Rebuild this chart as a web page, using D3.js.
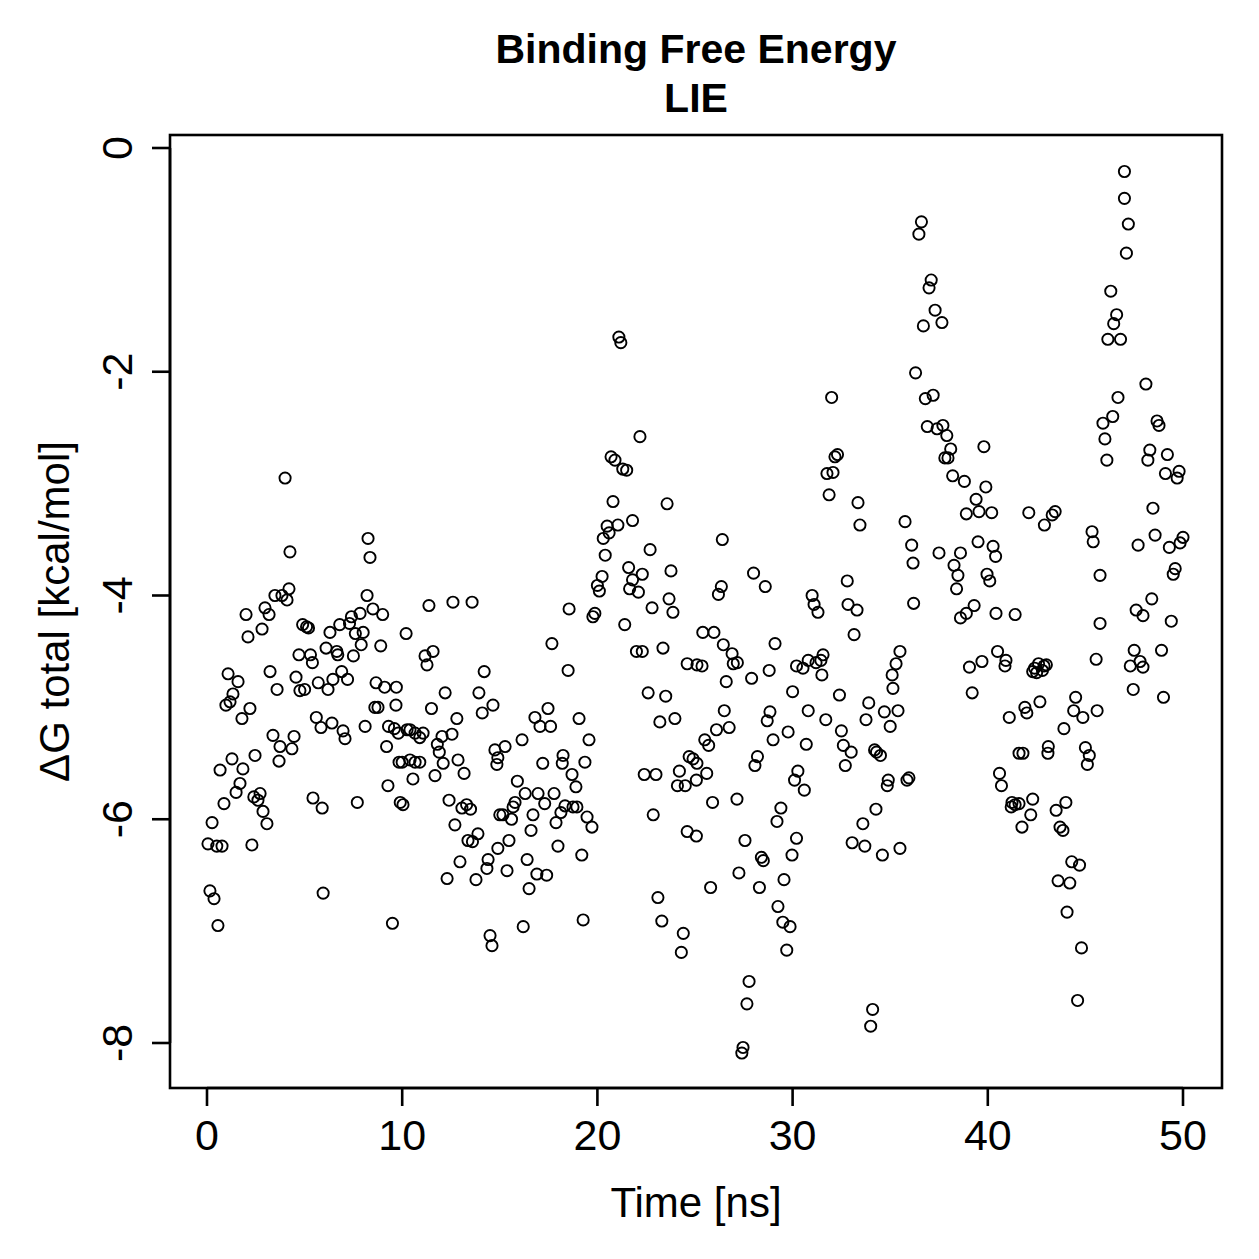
<!DOCTYPE html>
<html><head><meta charset="utf-8">
<script src="https://cdn.jsdelivr.net/npm/d3@7"></script>
<style>body{margin:0;background:#fff} svg{display:block} text{font-family:"Liberation Sans",Arial,Helvetica,sans-serif;fill:#000}</style>
</head><body>
<script>
const titleLines = ["Binding Free Energy", "LIE"];
const xLabel = "Time [ns]";
const yLabel = "ΔG total [kcal/mol]";
const xTicks = [0, 10, 20, 30, 40, 50];
const yTicks = [0, -2, -4, -6, -8];

const timeNs = [
  // 0-5 ns
  0.05,0.15,0.36,0.26,0.5,0.77,0.56,0.67,0.87,0.97,1.08,1.18,1.33,1.28,1.49,1.59,1.69,1.79,1.84,2.0,2.1,2.2,2.3,2.4,2.46,2.61,2.72,2.82,2.87,2.97,3.07,3.18,3.23,3.38,3.48,3.59,3.69,3.74,3.84,4.0,4.1,4.2,4.25,4.35,4.46,4.56,4.71,4.76,
  // 5-10 ns
  4.9,5.1,5.2,5.3,5.4,5.0,5.7,6.2,6.45,6.9,7.2,6.1,6.65,6.7,6.3,6.8,7.3,7.4,7.6,7.84,8.0,7.5,7.9,8.2,8.25,8.35,8.5,8.9,9.0,8.66,9.1,9.7,8.6,8.76,9.68,5.6,5.84,6.4,6.97,7.07,8.1,9.3,9.6,9.8,9.2,9.84,9.27,5.43,5.9,7.7,9.9,5.95,9.5,
  // 10-15 ns
  11.37,12.6,13.58,10.2,11.17,11.58,11.27,14.2,12.2,13.93,14.65,14.1,11.5,12.8,10.25,10.4,10.66,10.9,11.07,12.55,12.04,11.8,11.9,14.75,14.9,14.85,10.0,10.4,10.66,10.9,12.1,12.86,13.17,11.68,10.55,10.04,12.4,13.06,13.3,13.5,12.7,15.0,13.37,13.6,13.88,14.9,12.96,14.4,14.34,12.3,13.78,14.5,14.6,
  // 15-20 ns
  18.55,19.77,19.87,17.67,18.5,17.47,16.8,17.06,17.6,19.06,19.57,16.14,15.27,17.2,18.24,18.2,19.36,18.7,15.9,18.9,16.3,16.96,17.78,15.78,15.68,15.16,15.6,17.3,16.7,18.34,18.75,18.95,18.13,17.88,19.47,19.72,16.6,15.47,17.98,16.4,19.2,15.37,16.9,17.4,16.5,16.2,19.27,
  // 20-25 ns
  21.1,21.2,22.18,20.7,20.9,21.3,21.5,20.8,23.57,21.8,21.05,20.5,20.6,20.3,20.4,22.7,20.24,20.0,20.1,21.6,22.3,21.8,21.65,22.1,23.77,23.67,23.87,22.8,21.4,22.0,22.3,23.36,24.6,25.1,22.6,23.5,23.2,23.97,24.7,24.9,25.1,22.4,23.0,24.2,24.1,24.5,25.07,22.86,24.6,25.07,23.1,23.3,24.4,24.3,
  // 25-30 ns
  26.4,28.0,28.6,26.35,26.2,25.4,25.97,26.45,26.9,29.1,26.96,27.17,25.36,28.8,27.9,26.6,30.2,30.0,26.5,28.84,28.7,26.75,26.1,25.5,25.7,29.77,29.0,28.2,28.07,25.6,30.27,30.1,25.9,27.15,29.4,29.2,30.2,27.56,28.4,28.5,29.97,27.25,29.56,25.8,28.3,29.25,29.5,29.87,29.7,27.77,27.66,27.46,27.4,
  // 30-35 ns
  32.0,32.3,32.17,31.76,32.07,31.87,33.35,33.45,32.8,31.0,31.1,31.3,32.84,33.3,33.15,31.56,31.45,31.2,30.8,30.53,31.5,35.5,35.3,35.1,35.14,32.4,33.9,30.8,31.7,33.76,34.7,35.0,35.4,32.5,30.7,32.6,33.0,32.7,34.2,34.3,34.5,30.6,34.9,34.85,34.27,33.6,33.05,33.7,34.6,35.5,34.1,34.0,
  // 35-40 ns
  36.6,36.47,37.1,36.99,37.3,36.7,37.65,36.3,36.8,37.2,36.9,37.4,37.7,37.9,38.1,37.8,37.96,39.8,38.2,38.8,39.9,39.4,38.9,39.55,40.2,35.76,36.1,36.17,37.5,38.6,39.5,40.27,40.4,38.27,38.47,38.4,39.96,40.1,36.2,38.6,38.9,39.3,40.42,39.06,39.7,40.5,39.2,35.86,35.96,40.6,40.7,
  // 40-45 ns
  42.1,43.3,43.45,42.9,45.34,45.4,45.75,41.4,45.75,40.93,40.88,42.4,42.6,42.88,43.0,42.5,42.8,42.3,45.55,44.5,44.4,44.87,45.6,41.1,41.9,42.0,42.67,43.9,41.6,41.8,43.1,43.08,45.0,45.2,45.1,41.24,41.4,41.6,41.2,42.3,42.2,41.75,44.0,43.5,43.7,43.85,44.3,44.7,43.6,44.2,44.06,44.8,44.6,
  // 45-50 ns
  47.0,47.0,47.2,47.1,46.3,46.6,46.45,46.15,46.8,48.1,46.67,46.4,45.9,46.0,46.1,48.67,48.77,48.3,48.2,49.2,49.1,49.8,49.7,48.46,48.57,47.7,49.3,50.0,49.85,49.6,49.5,48.4,47.6,47.95,49.4,47.5,48.9,47.3,47.8,47.95,47.45,49.0
];

const deltaG = [
  // 0-5 ns
  -6.22,-6.64,-6.71,-6.03,-6.24,-6.24,-6.95,-5.56,-5.86,-4.98,-4.70,-4.95,-4.88,-5.46,-5.76,-4.77,-5.68,-5.10,-5.55,-4.17,-4.37,-5.01,-6.23,-5.80,-5.43,-5.83,-5.77,-4.30,-5.93,-4.11,-6.04,-4.17,-4.68,-5.25,-4.0,-4.84,-5.48,-5.35,-4.0,-2.95,-4.04,-3.94,-3.61,-5.37,-5.26,-4.73,-4.53,-4.85,
  // 5-10 ns
  -4.26,-4.28,-4.29,-4.53,-4.6,-4.84,-4.78,-4.84,-4.75,-4.68,-4.75,-4.47,-4.5,-4.53,-4.33,-4.26,-4.25,-4.19,-4.34,-4.16,-4.33,-4.54,-4.44,-4.0,-3.49,-3.66,-4.12,-4.45,-4.17,-4.78,-4.82,-4.82,-5.0,-5.0,-4.98,-5.09,-5.18,-5.14,-5.21,-5.28,-5.17,-5.17,-5.19,-5.23,-5.35,-5.49,-5.7,-5.81,-5.9,-5.85,-5.85,-6.66,-6.93,
  // 10-15 ns
  -4.09,-4.06,-4.06,-4.34,-4.54,-4.5,-4.62,-4.68,-4.87,-4.87,-4.98,-5.05,-5.01,-5.1,-5.2,-5.2,-5.23,-5.27,-5.23,-5.24,-5.26,-5.33,-5.4,-5.38,-5.45,-5.51,-5.49,-5.47,-5.49,-5.49,-5.5,-5.47,-5.59,-5.61,-5.64,-5.87,-5.83,-5.9,-5.87,-5.91,-6.05,-5.96,-6.19,-6.2,-6.13,-6.26,-6.38,-6.36,-6.44,-6.53,-6.54,-7.04,-7.13,
  // 15-20 ns
  -4.12,-4.19,-4.16,-4.43,-4.67,-5.01,-5.09,-5.17,-5.17,-5.1,-5.29,-5.29,-5.35,-5.5,-5.43,-5.5,-5.49,-5.6,-5.66,-5.71,-5.77,-5.77,-5.77,-5.85,-5.89,-5.96,-6.0,-5.86,-5.96,-5.88,-5.89,-5.89,-5.94,-6.03,-5.98,-6.07,-6.1,-6.19,-6.24,-6.36,-6.32,-6.46,-6.49,-6.5,-6.62,-6.96,-6.9,
  // 20-25 ns
  -1.69,-1.74,-2.58,-2.76,-2.79,-2.87,-2.88,-3.16,-3.18,-3.33,-3.37,-3.38,-3.44,-3.49,-3.64,-3.59,-3.83,-3.91,-3.96,-3.75,-3.81,-3.86,-3.94,-3.97,-3.78,-4.03,-4.15,-4.11,-4.26,-4.5,-4.5,-4.47,-4.61,-4.62,-4.87,-4.9,-5.13,-5.1,-5.44,-5.46,-5.5,-5.6,-5.6,-5.57,-5.7,-5.7,-5.65,-5.96,-6.11,-6.15,-6.7,-6.91,-7.02,-7.19,
  // 25-30 ns
  -3.5,-3.8,-3.92,-3.92,-3.99,-4.33,-4.33,-4.44,-4.52,-4.43,-4.61,-4.6,-4.63,-4.67,-4.74,-4.77,-4.63,-4.86,-5.03,-5.04,-5.12,-5.18,-5.2,-5.29,-5.34,-5.22,-5.29,-5.44,-5.52,-5.59,-5.57,-5.65,-5.85,-5.82,-5.9,-6.02,-6.17,-6.19,-6.34,-6.37,-6.32,-6.48,-6.54,-6.61,-6.61,-6.78,-6.92,-6.96,-7.17,-7.45,-7.65,-8.04,-8.09,
  // 30-35 ns
  -2.23,-2.74,-2.76,-2.91,-2.9,-3.1,-3.17,-3.37,-3.87,-4.0,-4.08,-4.15,-4.08,-4.13,-4.35,-4.53,-4.58,-4.6,-4.58,-4.65,-4.71,-4.5,-4.61,-4.71,-4.83,-4.89,-4.96,-5.03,-5.11,-5.11,-5.04,-5.17,-5.03,-5.21,-5.33,-5.34,-5.4,-5.52,-5.38,-5.4,-5.43,-5.74,-5.65,-5.7,-5.91,-6.04,-6.21,-6.24,-6.32,-6.26,-7.7,-7.85,
  // 35-40 ns
  -0.66,-0.77,-1.18,-1.25,-1.45,-1.59,-1.56,-2.01,-2.24,-2.21,-2.49,-2.51,-2.48,-2.57,-2.69,-2.77,-2.77,-2.67,-2.93,-2.98,-3.03,-3.14,-3.27,-3.25,-3.26,-3.34,-3.55,-3.71,-3.62,-3.62,-3.52,-3.56,-3.65,-3.73,-3.82,-3.94,-3.81,-3.87,-4.07,-4.2,-4.16,-4.09,-4.16,-4.64,-4.59,-4.5,-4.87,-5.65,-5.63,-5.59,-5.7,
  // 40-45 ns
  -3.26,-3.28,-3.25,-3.37,-3.43,-3.52,-3.82,-4.17,-4.25,-4.58,-4.63,-4.65,-4.61,-4.63,-4.62,-4.69,-4.67,-4.68,-4.57,-4.91,-5.03,-5.09,-5.03,-5.09,-5.0,-5.05,-4.95,-5.19,-5.41,-5.41,-5.35,-5.41,-5.36,-5.43,-5.51,-5.85,-5.87,-5.86,-5.89,-5.82,-5.96,-6.07,-5.85,-5.92,-6.07,-6.1,-6.38,-6.41,-6.55,-6.57,-6.83,-7.15,-7.62,
  // 45-50 ns
  -0.21,-0.45,-0.68,-0.94,-1.28,-1.49,-1.57,-1.71,-1.71,-2.11,-2.23,-2.4,-2.46,-2.6,-2.79,-2.44,-2.48,-2.7,-2.79,-2.74,-2.91,-2.89,-2.95,-3.22,-3.46,-3.55,-3.57,-3.48,-3.53,-3.76,-3.81,-4.03,-4.13,-4.18,-4.23,-4.49,-4.49,-4.63,-4.59,-4.64,-4.84,-4.91
];

const W = 1259, H = 1259;
const box = {left: 170, right: 1222, top: 135, bottom: 1088};
const x = d3.scaleLinear().domain([0, 50]).range([207, 1183]);
const y = d3.scaleLinear().domain([0, -8]).range([148, 1043]);
const n = Math.min(timeNs.length, deltaG.length);
const points = d3.range(n).map(i => ({t: timeNs[i], g: deltaG[i]}));

const svg = d3.select("body").append("svg").attr("width", W).attr("height", H);
svg.append("rect").attr("width", W).attr("height", H).attr("fill", "#fff");

// points
svg.append("g").selectAll("circle").data(points).join("circle")
  .attr("cx", d => x(d.t)).attr("cy", d => y(d.g)).attr("r", 5.6)
  .attr("fill", "none").attr("stroke", "#000").attr("stroke-width", 1.9);

// box
svg.append("rect").attr("x", box.left).attr("y", box.top)
  .attr("width", box.right - box.left).attr("height", box.bottom - box.top)
  .attr("fill", "none").attr("stroke", "#000").attr("stroke-width", 2.6);

// x axis
const xa = svg.append("g");
xa.append("line").attr("x1", x(xTicks[0])).attr("x2", x(xTicks[xTicks.length-1]))
  .attr("y1", box.bottom).attr("y2", box.bottom).attr("stroke", "#000").attr("stroke-width", 2.6);
xa.selectAll("line.t").data(xTicks).join("line").attr("class", "t")
  .attr("x1", d => x(d)).attr("x2", d => x(d)).attr("y1", box.bottom).attr("y2", box.bottom + 18)
  .attr("stroke", "#000").attr("stroke-width", 2.6);
xa.selectAll("text").data(xTicks).join("text")
  .attr("x", d => x(d)).attr("y", 1150).attr("text-anchor", "middle")
  .attr("font-size", 43).text(d => String(d));

// y axis
const ya = svg.append("g");
ya.append("line").attr("y1", y(yTicks[0])).attr("y2", y(yTicks[yTicks.length-1]))
  .attr("x1", box.left).attr("x2", box.left).attr("stroke", "#000").attr("stroke-width", 2.6);
ya.selectAll("line.t").data(yTicks).join("line").attr("class", "t")
  .attr("y1", d => y(d)).attr("y2", d => y(d)).attr("x1", box.left - 18).attr("x2", box.left)
  .attr("stroke", "#000").attr("stroke-width", 2.6);
ya.selectAll("text").data(yTicks).join("text")
  .attr("transform", d => `translate(132,${y(d)}) rotate(-90)`)
  .attr("text-anchor", "middle").attr("font-size", 43).text(d => String(d));

// labels
svg.append("text").attr("x", (box.left + box.right) / 2).attr("y", 1217)
  .attr("text-anchor", "middle").attr("font-size", 42).text(xLabel);
svg.append("text").attr("transform", `translate(69,${(box.top + box.bottom) / 2}) rotate(-90)`)
  .attr("text-anchor", "middle").attr("font-size", 42).text(yLabel);

// title
svg.append("g").selectAll("text").data(titleLines).join("text")
  .attr("x", (box.left + box.right) / 2).attr("y", (d, i) => 63 + i * 49)
  .attr("text-anchor", "middle").attr("font-size", 41).attr("font-weight", "bold").text(d => d);
</script>
</body></html>
